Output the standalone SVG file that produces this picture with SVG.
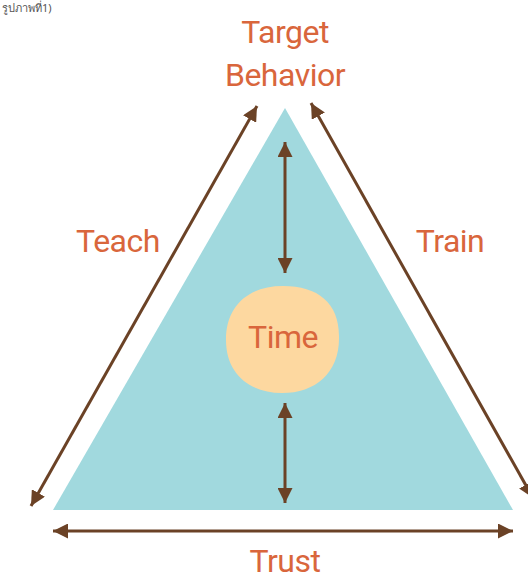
<svg xmlns="http://www.w3.org/2000/svg" width="528" height="588" viewBox="0 0 528 588">
<style>
.lbl{font-family:Roboto,"Liberation Sans",sans-serif;font-size:32px;fill:#d9663c;text-anchor:middle;letter-spacing:-0.5px}
.con{stroke:#6b4226;stroke-width:3;fill:none;marker-start:url(#ah);marker-end:url(#ah)}
</style>
<defs>
<marker id="ah" viewBox="0 0 10 10" refX="10" refY="5" markerWidth="5" markerHeight="5" orient="auto-start-reverse" markerUnits="strokeWidth">
<path d="M0,0 L10,5 L0,10 z" fill="#6b4226"/>
</marker>
</defs>
<text x="2" y="12" font-family="'Noto Sans','DejaVu Sans',sans-serif" font-size="11" fill="#555">รูปภาพที่1)</text>
<g id="triangle"><polygon points="285,108 53,510 513,510" fill="#a1d9de"/></g>
<g id="time">
<path d="M283,286 C318,286 339,303 339,336 C340,372 316,393 282,393 C250,393 226,374 226,340 C226,306 248,286 283,286 Z" fill="#fdd8a0"/>
<text class="lbl" x="283" y="348">Time</text>
</g>
<g id="target"><text class="lbl" x="285" y="43">Target</text><text class="lbl" x="285" y="86">Behavior</text></g>
<g id="teach"><text class="lbl" x="118" y="252">Teach</text></g>
<g id="train"><text class="lbl" x="450" y="252">Train</text></g>
<g id="trust"><text class="lbl" x="285" y="572">Trust</text></g>
<g id="connectors">
<line class="con" x1="31" y1="506" x2="257" y2="106"/>
<line class="con" x1="311" y1="103" x2="533" y2="498"/>
<line class="con" x1="53" y1="531" x2="513" y2="531"/>
<line class="con" x1="285" y1="142" x2="285" y2="273"/>
<line class="con" x1="285" y1="403" x2="285" y2="503"/>
</g>
</svg>
